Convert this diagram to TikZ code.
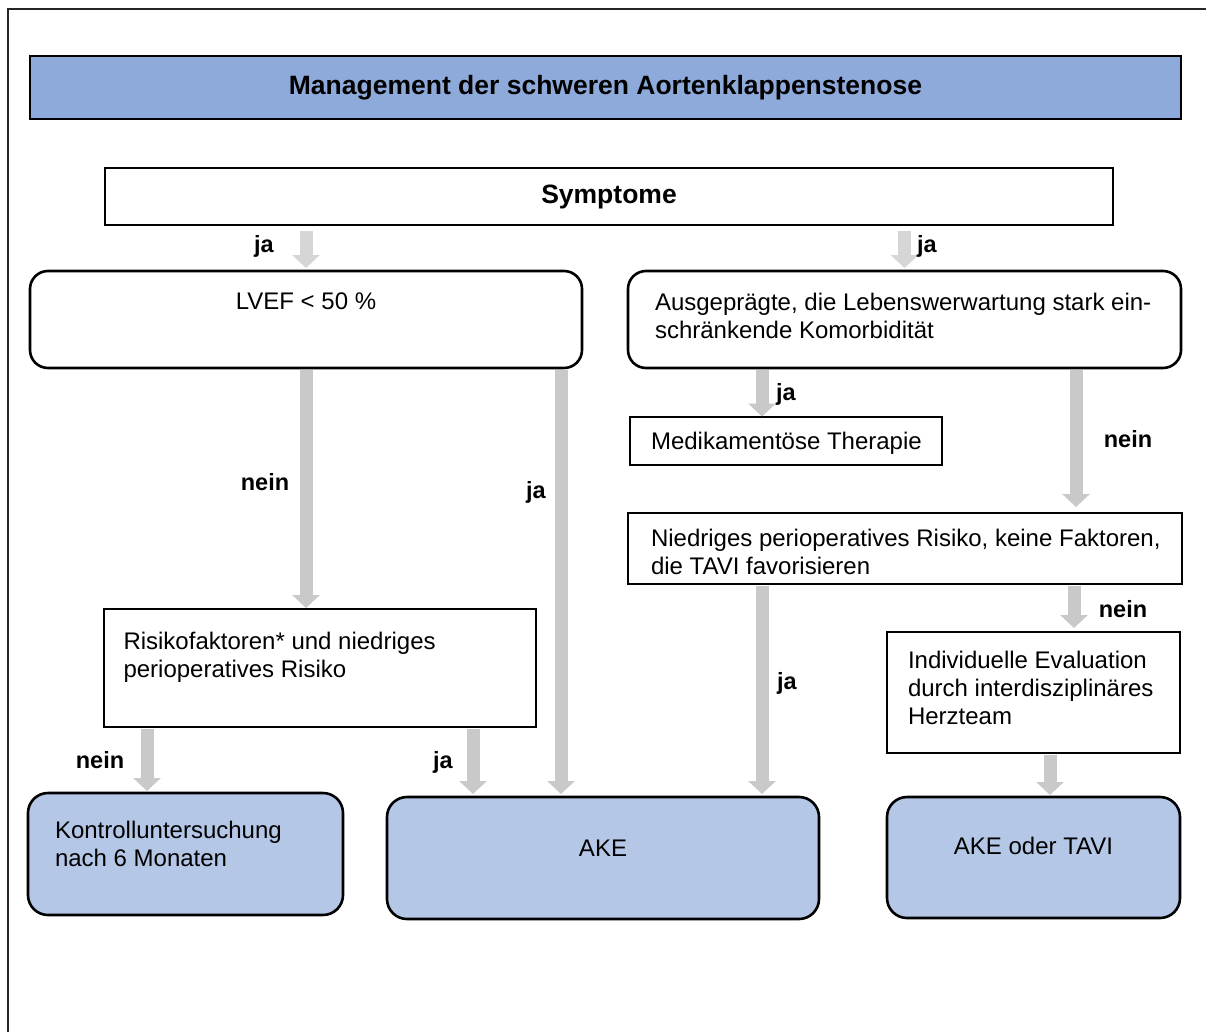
\documentclass[tikz,border=0pt]{standalone}
\usepackage{fontspec}
\setmainfont{Liberation Sans}
\usetikzlibrary{arrows.meta,positioning}
\definecolor{titleblue}{HTML}{8EAADB}
\definecolor{endblue}{HTML}{B4C7E7}
\definecolor{flowgray}{HTML}{C9C9C9}
\definecolor{flowlight}{HTML}{D6D6D6}
\newcommand{\normaltext}{\fontsize{24}{28}\selectfont}
\newcommand{\labeltext}{\fontsize{23.5}{28}\selectfont\bfseries}
\newcommand{\headtext}{\fontsize{26.5}{31}\selectfont\bfseries}
% width, height, first baseline, left pad, text
\newcommand{\boxtext}[5]{\parbox[c][#2][t]{#1}{\leftskip=#4\rule{0pt}{#3}#5}}
\tikzstyle{box} = [draw, fill=white, line width=1.3pt, anchor=north west, inner sep=0pt, outer sep=0pt, font=\normaltext]
\tikzstyle{round box} = [box, rounded corners=18pt, line width=2.6pt]
\tikzstyle{end box} = [round box, rounded corners=20pt, fill=endblue]
\tikzstyle{head} = [draw, inner sep=0pt, outer sep=0pt, font=\headtext]
\tikzstyle{flow} = [flowgray, line width=13pt, -{Triangle[width=27pt,length=13pt]}, shorten <=1.5pt]
\tikzstyle{flow top} = [flow, flowlight, shorten <=6pt, shorten >=3pt]
\tikzstyle{lab} = [font=\labeltext, anchor=base, inner sep=0pt]

\begin{document}
\begin{tikzpicture}[x=1pt,y=-1pt]
        \useasboundingbox (0,0) rectangle (1206,1032);
        % frame
        \draw[black!85,line width=2.3pt] (8,1032) -- (8,9) -- (1206,9);
        % title and question
        \node[head, fill=titleblue, line width=1.3pt, minimum width=1151pt, minimum height=63pt] (title) at (605.5,87.5) {Management der schweren Aortenklappenstenose};
        \node[head, fill=white, line width=2.6pt, minimum width=1008pt, minimum height=57pt] (sym) at (609,196.5) {Symptome};
        
        % decision boxes
        \node[round box] (lvef) at (30,271) {\boxtext{552pt}{97pt}{38.5pt}{0pt}{\centering LVEF < 50 \%}};
        \node[round box] (komorb) at (628,271) {\boxtext{553pt}{97pt}{39pt}{27pt}{Ausgeprägte, die Lebenswerwartung stark ein-\\schränkende Komorbidität}};
        \node[box] (medik) at (630,417) {\boxtext{312pt}{48pt}{32pt}{21pt}{Medikamentöse Therapie}};
        \node[box] (niedrig) at (628,513) {\boxtext{554pt}{71pt}{33pt}{23pt}{Niedriges perioperatives Risiko, keine Faktoren,\\die TAVI favorisieren}};
        \node[box] (risiko) at (104,609) {\boxtext{432pt}{118pt}{40.5pt}{19.5pt}{Risikofaktoren* und niedriges\\perioperatives Risiko}};
        \node[box] (indiv) at (887,632) {\boxtext{293pt}{121pt}{36.5pt}{21pt}{Individuelle Evaluation\\durch interdisziplinäres\\Herzteam}};
        
        % end boxes
        \node[end box] (kontroll) at (28,793) {\boxtext{315pt}{122pt}{45pt}{27pt}{Kontrolluntersuchung\\nach 6 Monaten}};
        \node[end box] (ake) at (387,797) {\boxtext{432pt}{122pt}{59pt}{0pt}{\centering AKE}};
        \node[end box] (aketavi) at (887,797) {\boxtext{293pt}{121pt}{57pt}{0pt}{\centering AKE oder TAVI}};
        
        % arrows
        \draw[flow top] (sym.south -| lvef.north) -- (lvef.north);
        \draw[flow top] (sym.south -| komorb.north) -- (komorb.north);
        \draw[flow, shorten >=1pt] (lvef.south) -- (lvef.south |- risiko.north);
        \draw[flow, shorten >=3pt] ([xshift=255pt]lvef.south) -- ([xshift=255pt]lvef.south |- ake.north);
        \draw[flow, shorten >=0.5pt] ([xshift=-142.5pt]komorb.south) -- ([xshift=-142.5pt]komorb.south |- medik.north);
        \draw[flow, shorten >=6pt] ([xshift=171.5pt]komorb.south) -- ([xshift=171.5pt]komorb.south |- niedrig.north);
        \draw[flow, shorten >=3pt] ([xshift=-143pt]niedrig.south) -- ([xshift=-143pt]niedrig.south |- ake.north);
        \draw[flow, shorten >=4pt] ([xshift=169pt]niedrig.south) -- ([xshift=169pt]niedrig.south |- indiv.north);
        \draw[flow, shorten >=2pt] ([xshift=16.5pt]indiv.south) -- ([xshift=16.5pt]indiv.south |- aketavi.north);
        \draw[flow, shorten >=2pt] ([xshift=-173pt]risiko.south) -- ([xshift=-173pt]risiko.south |- kontroll.north);
        \draw[flow, shorten >=3pt] ([xshift=153pt]risiko.south) -- ([xshift=153pt]risiko.south |- ake.north);
        
        % arrow labels
        \node[lab] (ja1) at (264,252) {ja};
        \node[lab] (ja2) at (927,252) {ja};
        \node[lab] (nein1) at (265,490) {nein};
        \node[lab] (ja3) at (536,498) {ja};
        \node[lab] (ja4) at (786,400) {ja};
        \node[lab] (nein2) at (1128,447) {nein};
        \node[lab] (ja5) at (787,689) {ja};
        \node[lab] (nein3) at (1123,617) {nein};
        \node[lab] (nein4) at (100,768) {nein};
        \node[lab] (ja6) at (443,768) {ja};
\end{tikzpicture}
\end{document}
